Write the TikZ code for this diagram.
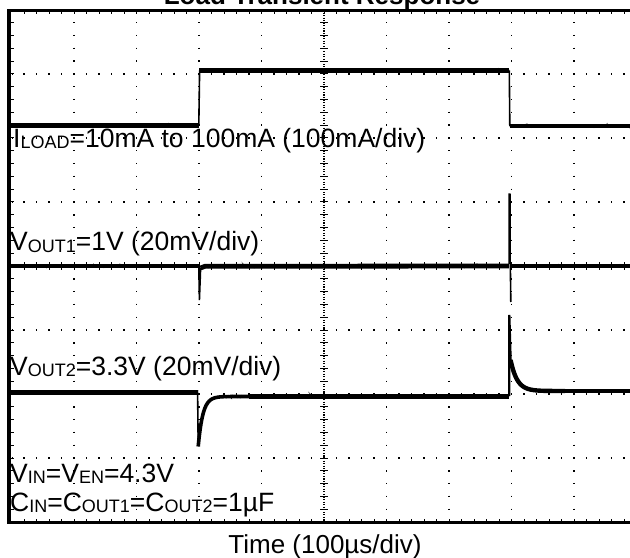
\documentclass[tikz,border=0pt]{standalone}
\usepackage{fontspec}
\setmainfont{Liberation Sans}
\usetikzlibrary{decorations.pathmorphing}
\newcommand{\mysub}[1]{\raisebox{-1bp}{\fontsize{18bp}{18bp}\selectfont #1}}
\begin{document}
\begin{tikzpicture}[x=1bp,y=-1bp,
  trace/.style={line width=4.8bp, black, line join=round},
  noisy/.style={line width=1.1bp, black, decorate, decoration={random steps, segment length=1.6bp, amplitude=1.3bp}},
  edge/.style={line width=1.6bp, black},
  lbl/.style={anchor=base west, inner sep=0pt, font=\fontsize{26.5bp}{30bp}\selectfont},
  vdots/.style={line width=1.4bp, dash pattern=on 1.4bp off 11.4bp, dash phase=0.7bp},
  hdots/.style={line width=1.4bp, dash pattern=on 1.4bp off 11.1bp, dash phase=0.7bp},
  cdots/.style={line width=1.1bp, dash pattern=on 1.1bp off 1.46bp},
  tick/.style={line width=1bp},
  border/.style={line width=3.5bp, black}]
\pgfmathsetseed{7}
\useasboundingbox (0,0) rectangle (630,558);
\clip (0,0) rectangle (630,558);
% dotted grid
\foreach \k in {1,2,3,4,6,7,8,9}
  \draw[vdots] ({11.5+62.5*\k},10) -- ({11.5+62.5*\k},522);
\foreach \m in {1,2,3,5,6,7}
  \draw[hdots] (11.5,{10+64*\m}) -- (640,{10+64*\m});
% centre crosshair
\draw[cdots] (324,10) -- (324,522);
\draw[cdots] (11.5,266) -- (640,266);
\foreach \j in {1,...,39}
  \draw[tick] (320,{10+12.8*\j}) -- (328,{10+12.8*\j});
\foreach \i in {1,...,50}
  \draw[tick] ({11.5+12.5*\i},262) -- ({11.5+12.5*\i},270);
% border ticks
\foreach \i in {1,...,50} {
  \draw[tick] ({11.5+12.5*\i},10.5) -- ({11.5+12.5*\i},14.5);
  \draw[tick] ({11.5+12.5*\i},522.5) -- ({11.5+12.5*\i},518.5);
}
\foreach \j in {1,...,39}
  \draw[tick] (9,{10+12.8*\j}) -- (14,{10+12.8*\j});
% frame
\draw[border] (640,10.5) -- (9,10.5) -- (9,522.5) -- (640,522.5);
% I_LOAD trace
\draw[trace] (11,125.5) -- (198.5,125.5);
\draw[noisy] (11,125.5) -- (198.5,125.5);
\draw[edge] (198.8,125.5) -- (199.6,70.5);
\draw[trace] (199.3,70.5) -- (509,70.5);
\draw[noisy] (199.3,70.5) -- (509,70.5);
\draw[edge] (509.3,70.5) -- (509.8,126);
\draw[trace] (509.5,126) -- (640,126);
\draw[noisy] (509.5,126) -- (640,126);
% V_OUT1 trace
\draw[trace] (11,266) -- (198.5,266);
\draw[noisy] (11,266) -- (198.5,266);
\draw[edge] (198.8,266) -- (199.4,300) -- (200.6,268);
\draw[trace] (200.5,268) -- (205,266.3) -- (509,266);
\draw[noisy] (205,266.3) -- (509,266);
\draw[line width=2.5bp] (509.5,264) -- (509.6,193.5);
\draw[edge] (510.3,262) -- (510.8,302);
\draw[trace] (511,266) -- (640,266);
\draw[noisy] (511,266) -- (640,266);
% V_OUT2 trace
\draw[trace] (11,392.5) -- (197.5,392.5);
\draw[noisy] (11,392.5) -- (197.5,392.5);
\draw[edge] (197.6,392.5) -- (198.2,446);
\draw[line width=3.6bp, line join=round] plot[domain=198.2:250, samples=90] (\x,{396.5+50*exp(-(\x-198.2)/4.6)});
\draw[trace] (249,396.5) -- (509,396.5);
\draw[noisy] (220,396.5) -- (509,396.5);
\draw[line width=2.3bp] (509.3,396) -- (509.3,315) -- (510.6,360);
\draw[line width=4.4bp, line join=round] plot[domain=510.6:565, samples=90] (\x,{391-31*exp(-(\x-510.6)/6.5)});
\draw[trace] (564,391) -- (640,391);
\draw[noisy] (530,391) -- (640,391);
% labels
\node[lbl] (iload) at (13,148) {I\mysub{LOAD}=10mA to 100mA (100mA/div)};
\node[lbl] (vout1) at (10,251) {V\mysub{OUT1}=1V (20mV/div)};
\node[lbl] (vout2) at (10,375) {V\mysub{OUT2}=3.3V (20mV/div)};
\node[lbl] (vin) at (10,482) {V\mysub{IN}=V\mysub{EN}=4.3V};
\node[lbl] (cin) at (10,511) {C\mysub{IN}=C\mysub{OUT1}=C\mysub{OUT2}=1µF};
\node[anchor=base, inner sep=0pt, font=\fontsize{26bp}{30bp}\selectfont] (time) at (325,553) {Time (100µs/div)};
\node[anchor=base, inner sep=0pt, font=\fontsize{26bp}{30bp}\selectfont\bfseries] (title) at (322,5) {Load Transient Response};
\end{tikzpicture}
\end{document}
